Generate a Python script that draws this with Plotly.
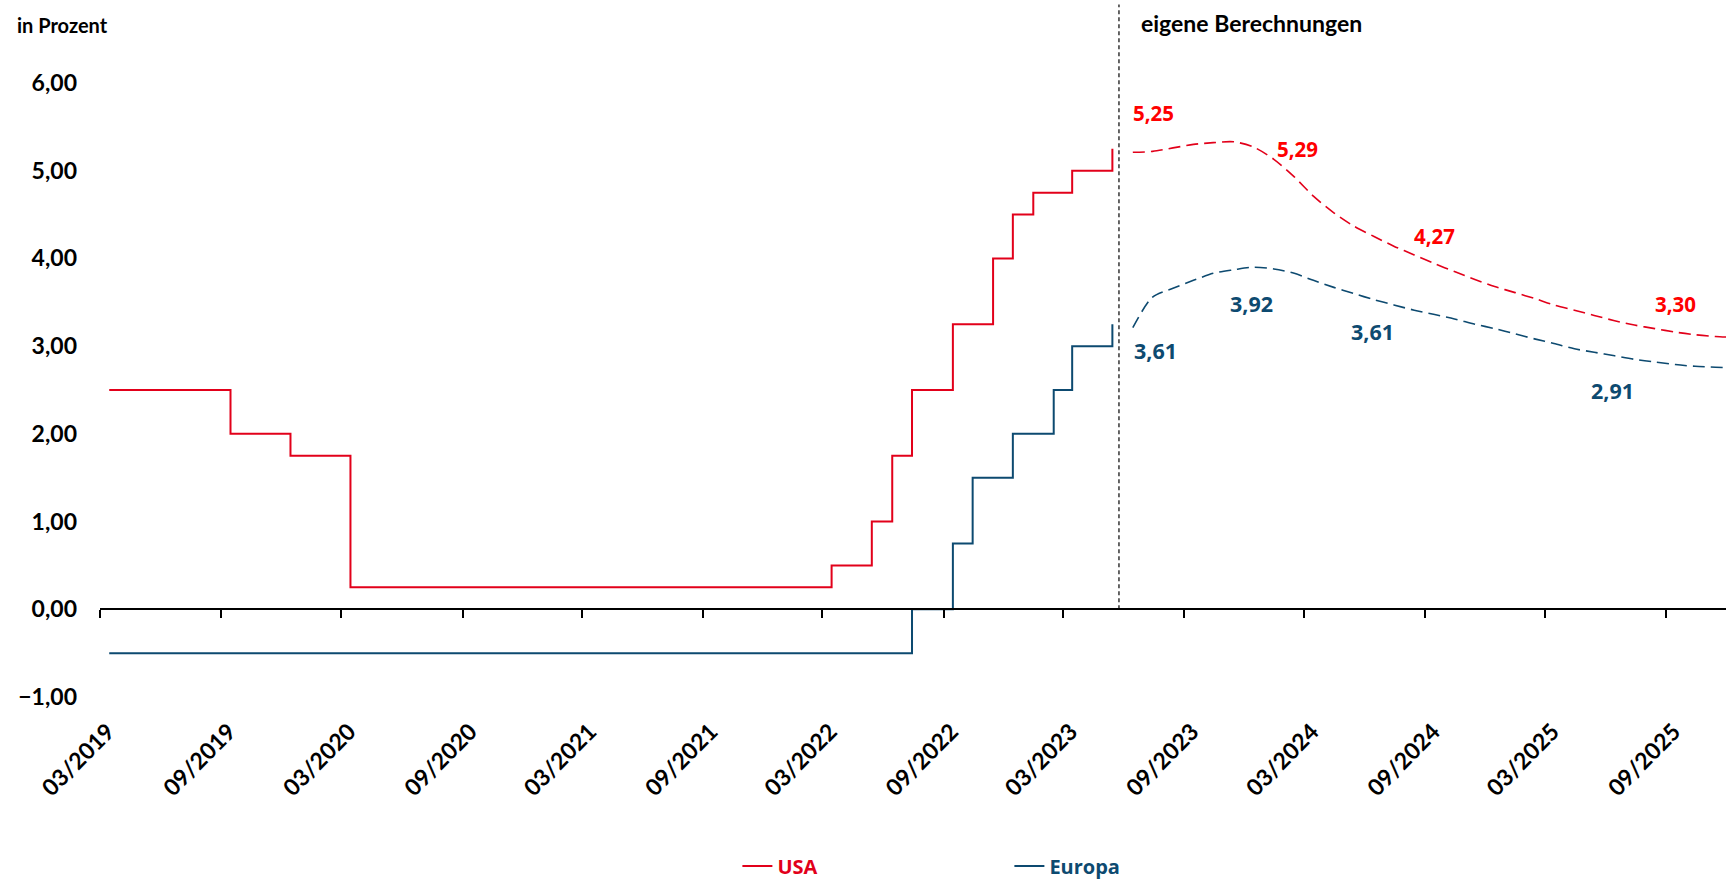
import plotly.graph_objects as go

# ---------------- data ----------------
usa_dates = ["2019-03-15", "2019-09-15", "2019-12-15", "2020-03-15", "2022-03-15",
             "2022-05-15", "2022-06-15", "2022-07-15", "2022-09-15", "2022-11-15",
             "2022-12-15", "2023-01-15", "2023-03-15", "2023-05-15"]
usa_values = [2.50, 2.00, 1.75, 0.25, 0.50, 1.00, 1.75, 2.50, 3.25, 4.00, 4.50, 4.75, 5.00, 5.25]

eu_dates = ["2019-03-15", "2022-07-15", "2022-09-15", "2022-10-15", "2022-12-15",
            "2023-02-15", "2023-03-15", "2023-05-15"]
eu_values = [-0.50, 0.00, 0.75, 1.50, 2.00, 2.50, 3.00, 3.25]

fc_months = ["2023-06-15", "2023-07-15", "2023-08-15", "2023-09-15", "2023-10-15",
             "2023-11-15", "2023-12-15", "2024-01-15", "2024-02-15", "2024-03-15",
             "2024-04-15", "2024-05-15", "2024-06-15", "2024-07-15", "2024-08-15",
             "2024-09-15", "2024-10-15", "2024-11-15", "2024-12-15", "2025-01-15",
             "2025-02-15", "2025-03-15", "2025-04-15", "2025-05-15", "2025-06-15",
             "2025-07-15", "2025-08-15", "2025-09-15", "2025-10-15", "2025-11-15",
             "2025-12-15"]
usa_forecast = [5.21, 5.22, 5.26, 5.30, 5.32, 5.33, 5.27, 5.13, 4.93, 4.71,
                4.52, 4.37, 4.25, 4.14, 4.04, 3.94, 3.85, 3.76, 3.68, 3.61,
                3.54, 3.47, 3.41, 3.35, 3.29, 3.24, 3.20, 3.16, 3.13, 3.11, 3.10]
eu_forecast = [3.21, 3.56, 3.66, 3.75, 3.83, 3.87, 3.90, 3.88, 3.83, 3.75,
               3.67, 3.60, 3.53, 3.47, 3.41, 3.36, 3.31, 3.25, 3.20, 3.14,
               3.08, 3.03, 2.97, 2.93, 2.89, 2.85, 2.82, 2.79, 2.77, 2.76, 2.75]

tick_dates = ["2019-03-01", "2019-09-01", "2020-03-01", "2020-09-01", "2021-03-01",
              "2021-09-01", "2022-03-01", "2022-09-01", "2023-03-01", "2023-09-01",
              "2024-03-01", "2024-09-01", "2025-03-01", "2025-09-01"]
label_dates = ["2019-03-13", "2019-09-13", "2020-03-13", "2020-09-13", "2021-03-13",
               "2021-09-13", "2022-03-13", "2022-09-13", "2023-03-13", "2023-09-13",
               "2024-03-13", "2024-09-13", "2025-03-13", "2025-09-13"]
tick_labels = ["03/2019", "09/2019", "03/2020", "09/2020", "03/2021", "09/2021",
               "03/2022", "09/2022", "03/2023", "09/2023", "03/2024", "09/2024",
               "03/2025", "09/2025"]
y_ticks = [-1, 0, 1, 2, 3, 4, 5, 6]

# data labels (text, position date, position value)
usa_label_text = ["5,25", "5,29", "4,27", "3,30"]
usa_label_x = ["2023-07-17", "2024-02-20", "2024-09-14", "2025-09-16"]
usa_label_y = [5.66, 5.25, 4.26, 3.48]
eu_label_text = ["3,61", "3,92", "3,61", "2,91"]
eu_label_x = ["2023-07-19", "2023-12-12", "2024-06-12", "2025-06-12"]
eu_label_y = [2.95, 3.49, 3.17, 2.49]

forecast_start = "2023-05-25"

# ---------------- style ----------------
RED = "#e2001a"
RED_LABEL = "#ff0000"
BLUE = "#0d4a70"
TICK_FONT = dict(family="Lato", size=23, color="black", weight="bold")
LABEL_FONT = "Open Sans"

fig = go.Figure()

fig.add_trace(go.Scatter(
    x=usa_dates, y=usa_values, mode="lines", line=dict(color=RED, width=2, shape="hv"),
    name=f'<span style="color:{RED}">USA</span>'))
fig.add_trace(go.Scatter(
    x=eu_dates, y=eu_values, mode="lines", line=dict(color=BLUE, width=2, shape="hv"),
    name=f'<span style="color:{BLUE}">Europa</span>'))
fig.add_trace(go.Scatter(
    x=fc_months, y=usa_forecast, mode="lines", showlegend=False,
    line=dict(color=RED, width=1.6, shape="spline", smoothing=0.8, dash="12px,6px")))
fig.add_trace(go.Scatter(
    x=fc_months, y=eu_forecast, mode="lines", showlegend=False,
    line=dict(color=BLUE, width=1.6, shape="spline", smoothing=0.8, dash="12px,6px")))

# zero-line axis with tick marks (shares range with main x axis)
fig.add_trace(go.Scatter(x=[tick_dates[0]], y=[None], xaxis="x2", showlegend=False,
                         hoverinfo="skip"))

for t, xx, yy in zip(usa_label_text, usa_label_x, usa_label_y):
    fig.add_annotation(x=xx, y=yy, text=t, showarrow=False,
                       font=dict(family=LABEL_FONT, size=20.5, color=RED_LABEL, weight="bold"))
for t, xx, yy in zip(eu_label_text, eu_label_x, eu_label_y):
    fig.add_annotation(x=xx, y=yy, text=t, showarrow=False,
                       font=dict(family=LABEL_FONT, size=21.5, color=BLUE, weight="bold"))

fig.add_annotation(xref="paper", yref="paper", x=-0.052, y=1.095, xanchor="left",
                   yanchor="middle", text="in Prozent", showarrow=False,
                   font=dict(family="Lato", size=20, color="black", weight="bold"))
fig.add_annotation(xref="x", yref="paper", x="2023-06-25", y=1.098, xanchor="left",
                   yanchor="middle", text="eigene Berechnungen", showarrow=False,
                   font=dict(family="Lato", size=23, color="black", weight="bold"))

fig.add_shape(type="line", xref="x", yref="paper", x0=forecast_start, x1=forecast_start,
              y0=1 / 7, y1=1.128, line=dict(color="black", width=1.2, dash="4px,3px"))

x_range = ["2019-03-01", "2025-12-01"]
fig.update_layout(
    width=1726, height=887,
    margin=dict(l=100, r=0, t=83, b=190, autoexpand=False),
    paper_bgcolor="white", plot_bgcolor="white",
    separators=",.",
    showlegend=True,
    legend=dict(orientation="h", x=0.392, xanchor="left", y=-0.307, yanchor="bottom",
                entrywidth=227, entrywidthmode="pixels", borderwidth=0,
                font=dict(family="Open Sans", size=20, weight="bold")),
    xaxis=dict(type="date", range=x_range, tickvals=label_dates, ticktext=tick_labels,
               tickangle=-45, tickfont=TICK_FONT, showgrid=False, zeroline=False,
               showline=False, ticks="outside", tickcolor="rgba(0,0,0,0)", ticklen=11,
               automargin=False),
    xaxis2=dict(type="date", overlaying="x", matches="x", anchor="free", position=1 / 7,
                side="bottom", showline=True, linecolor="black", linewidth=2,
                ticks="outside", tickvals=tick_dates, ticklen=8, tickwidth=2,
                tickcolor="black", showticklabels=False, showgrid=False, zeroline=False,
                automargin=False),
    yaxis=dict(range=[-1, 6], tickvals=y_ticks, tickformat=".2f", tickfont=TICK_FONT,
               showgrid=False, zeroline=False, showline=False, ticks="",
               ticklabelstandoff=22, automargin=False),
)

fig.write_html("out.html", config={"displayModeBar": False},
               post_script="document.body.style.margin='0';")
